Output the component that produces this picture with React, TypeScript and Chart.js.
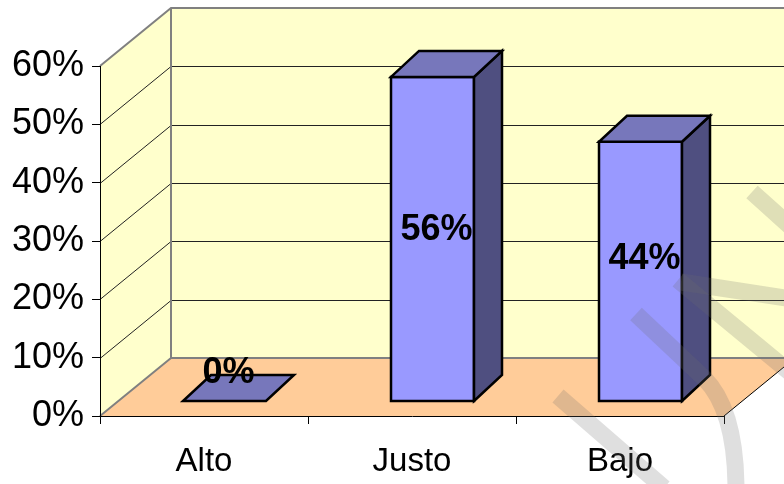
import React, { useEffect, useRef } from "react";
import { Chart, registerables } from "chart.js";

Chart.register(...registerables);

const categories = ["Alto", "Justo", "Bajo"];
const shares = [0, 55.56, 44.44];
const yTicks = [0, 10, 20, 30, 40, 50, 60];

const FONT = "'Liberation Sans', Arial, sans-serif";
const WALL = "#FFFFCC";
const FLOOR = "#FFCC99";
const EDGE = "#808080";
const FRONT = "#9999FF";
const TOP = "#7777BB";
const SIDE = "#4F4F80";

// depth of the 3D box (wall offset)
const DEPTH_X = 71;
const DEPTH_Y = -58;

const threeD = {
  id: "threeD",
  beforeDraw(chart: any) {
    const { ctx, chartArea, scales } = chart;
    const ys = scales.y;
    const { left, right, bottom, top } = chartArea;
    const W = chart.width;
    ctx.save();
    ctx.fillStyle = "#fff";
    ctx.fillRect(0, 0, W, chart.height);
    // left wall
    ctx.fillStyle = WALL;
    ctx.beginPath();
    ctx.moveTo(left, bottom);
    ctx.lineTo(left, top);
    ctx.lineTo(left + DEPTH_X, top + DEPTH_Y);
    ctx.lineTo(left + DEPTH_X, bottom + DEPTH_Y);
    ctx.closePath();
    ctx.fill();
    // back wall
    ctx.fillRect(left + DEPTH_X, top + DEPTH_Y, W + 40, bottom - top);
    // floor
    ctx.fillStyle = FLOOR;
    ctx.beginPath();
    ctx.moveTo(left, bottom);
    ctx.lineTo(right, bottom);
    ctx.lineTo(right + DEPTH_X, bottom + DEPTH_Y);
    ctx.lineTo(left + DEPTH_X, bottom + DEPTH_Y);
    ctx.closePath();
    ctx.fill();
    // grid lines
    ctx.strokeStyle = "#222";
    ctx.lineWidth = 1;
    yTicks.forEach((t) => {
      if (t === yTicks[0] || t === yTicks[yTicks.length - 1]) return;
      const py = Math.round(ys.getPixelForValue(t)) + 0.5;
      ctx.beginPath();
      ctx.moveTo(left, py);
      ctx.lineTo(left + DEPTH_X, py + DEPTH_Y);
      ctx.lineTo(right + DEPTH_X + 20, py + DEPTH_Y);
      ctx.stroke();
    });
    // edges
    ctx.strokeStyle = EDGE;
    ctx.lineWidth = 2;
    ctx.beginPath();
    ctx.moveTo(left, top);
    ctx.lineTo(left + DEPTH_X, top + DEPTH_Y);
    ctx.lineTo(W + 20, top + DEPTH_Y);
    ctx.moveTo(left + DEPTH_X, top + DEPTH_Y);
    ctx.lineTo(left + DEPTH_X, bottom + DEPTH_Y);
    ctx.lineTo(W + 20, bottom + DEPTH_Y);
    ctx.moveTo(left, bottom);
    ctx.lineTo(left + DEPTH_X, bottom + DEPTH_Y);
    ctx.stroke();
    ctx.strokeStyle = "#000";
    ctx.lineWidth = 1;
    ctx.beginPath();
    ctx.moveTo(right, bottom);
    ctx.lineTo(right + DEPTH_X, bottom + DEPTH_Y);
    ctx.stroke();
    ctx.restore();
  },
  afterDatasetsDraw(chart: any) {
    const { ctx, scales } = chart;
    const xs = scales.x;
    const ys = scales.y;
    const meta = chart.getDatasetMeta(0);
    const barW = 83;
    const shiftX = -21;
    const frontDy = -15;
    const dx = 28;
    const dy = -26;
    ctx.save();
    ctx.lineJoin = "miter";
    ctx.strokeStyle = "#000";
    ctx.lineWidth = 2.5;
    meta.data.forEach((el: any, i: number) => {
      const v = shares[i];
      const cx = xs.getPixelForValue(i);
      const x0 = cx + shiftX;
      const x1 = x0 + barW;
      const yb = ys.getPixelForValue(0) + frontDy;
      const yt = ys.getPixelForValue(v) + frontDy;
      if (yb - yt > 0.5) {
        // front
        ctx.fillStyle = FRONT;
        ctx.beginPath();
        ctx.rect(x0, yt, barW, yb - yt);
        ctx.fill();
        ctx.stroke();
        // side
        ctx.fillStyle = SIDE;
        ctx.beginPath();
        ctx.moveTo(x1, yb);
        ctx.lineTo(x1 + dx, yb + dy);
        ctx.lineTo(x1 + dx, yt + dy);
        ctx.lineTo(x1, yt);
        ctx.closePath();
        ctx.fill();
        ctx.stroke();
      }
      // top
      ctx.fillStyle = TOP;
      ctx.beginPath();
      ctx.moveTo(x0, yt);
      ctx.lineTo(x1, yt);
      ctx.lineTo(x1 + dx, yt + dy);
      ctx.lineTo(x0 + dx, yt + dy);
      ctx.closePath();
      ctx.fill();
      ctx.stroke();
    });
    // value labels
    ctx.fillStyle = "#000";
    ctx.font = `bold 36px ${FONT}`;
    ctx.textAlign = "center";
    ctx.textBaseline = "alphabetic";
    meta.data.forEach((el: any, i: number) => {
      const v = shares[i];
      const cx = xs.getPixelForValue(i);
      const yb = ys.getPixelForValue(0) + frontDy;
      const yt = ys.getPixelForValue(v) + frontDy;
      const h = yb - yt;
      const lx = cx + shiftX + barW / 2 + 4;
      const ly = yb - 31 - 0.44 * h;
      ctx.fillText(Math.round(v) + "%", lx, ly + 13);
    });
    ctx.restore();
  },
  afterDraw(chart: any) {
    // faint watermark strokes
    const { ctx } = chart;
    ctx.save();
    ctx.strokeStyle = "rgba(110,110,110,0.22)";
    ctx.lineWidth = 17;
    ctx.lineCap = "butt";
    ctx.beginPath();
    ctx.moveTo(558, 396);
    ctx.lineTo(664, 488);
    ctx.moveTo(636, 314);
    ctx.lineTo(704, 378);
    ctx.quadraticCurveTo(736, 410, 736, 490);
    ctx.moveTo(678, 280);
    ctx.lineTo(792, 374);
    ctx.moveTo(752, 192);
    ctx.lineTo(792, 228);
    ctx.stroke();
    ctx.beginPath();
    ctx.moveTo(681, 282);
    ctx.lineTo(792, 299);
    ctx.stroke();
    ctx.restore();
  },
};

export default function App() {
  const ref = useRef<HTMLCanvasElement>(null);
  useEffect(() => {
    const chart = new Chart(ref.current!, {
      type: "bar",
      data: {
        labels: categories,
        datasets: [
          {
            data: shares,
            backgroundColor: "rgba(0,0,0,0)",
            borderWidth: 0,
          },
        ],
      },
      options: {
        animation: false,
        responsive: false,
        events: [],
        layout: { padding: { left: 0, right: 60, top: 66, bottom: 0 } },
        plugins: { legend: { display: false }, tooltip: { enabled: false } },
        scales: {
          x: {
            afterFit: (s: any) => {
              s.height = 68;
            },
            grid: {
              offset: true,
              drawOnChartArea: false,
              drawTicks: true,
              tickLength: 8,
              color: "#000",
            },
            border: { display: true, color: "#000", width: 1 },
            ticks: {
              color: "#000",
              font: { family: FONT, size: 33 },
              padding: 18,
              maxRotation: 0,
            },
          },
          y: {
            min: 0,
            max: 60,
            afterFit: (s: any) => {
              s.width = 100;
            },
            afterBuildTicks: (s: any) => {
              s.ticks = yTicks.map((v) => ({ value: v }));
            },
            grid: {
              drawOnChartArea: false,
              drawTicks: true,
              tickLength: 8,
              color: "#000",
            },
            border: { display: true, color: "#000", width: 1 },
            ticks: {
              color: "#000",
              font: { family: FONT, size: 36 },
              padding: 8,
              callback: (v: any) => v + "%",
            },
          },
        },
      },
      plugins: [threeD],
    });
    return () => chart.destroy();
  }, []);
  return (
    <div style={{ position: "absolute", left: 0, top: 0, width: 784, height: 484, background: "#fff" }}>
      <canvas ref={ref} width={784} height={484} />
    </div>
  );
}
